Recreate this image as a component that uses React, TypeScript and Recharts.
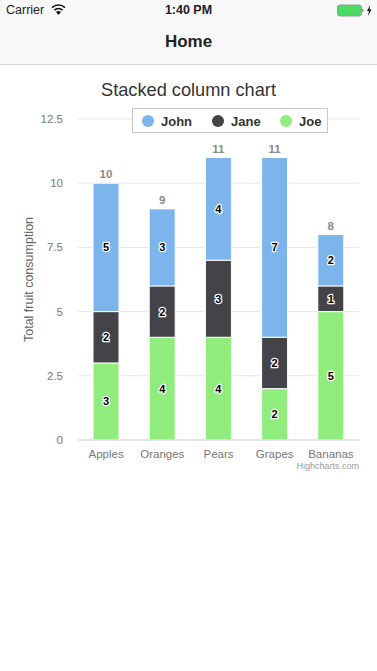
import React from "react";
import { BarChart, Bar, XAxis, YAxis, CartesianGrid, LabelList } from "recharts";

const CATEGORIES = ["Apples", "Oranges", "Pears", "Grapes", "Bananas"];
const JOHN = [5, 3, 4, 7, 2];
const JANE = [2, 2, 3, 2, 1];
const JOE = [3, 4, 4, 2, 5];
const TOTALS = [10, 9, 11, 11, 8];
const Y_TICKS = [0, 2.5, 5, 7.5, 10, 12.5];

const SERIES = [
  { name: "John", color: "#7cb5ec" },
  { name: "Jane", color: "#434348" },
  { name: "Joe", color: "#90ed7d" },
];

const data = CATEGORIES.map((name, i) => ({
  name, john: JOHN[i], jane: JANE[i], joe: JOE[i], total: TOTALS[i],
}));

const FONT = '"Liberation Sans", Arial, sans-serif';

function SegmentLabel(props: any) {
  const { x, y, width, height, value } = props;
  return (
    <text
      x={x + width / 2}
      y={y + height / 2}
      dy="0.36em"
      textAnchor="middle"
      fontSize={11}
      fontWeight={700}
      fill="#000"
      stroke="#fff"
      strokeWidth={2.5}
      strokeLinejoin="round"
      paintOrder="stroke"
      fontFamily={FONT}
    >
      {value}
    </text>
  );
}

function TotalLabel(props: any) {
  const { x, y, width, value } = props;
  return (
    <text x={x + width / 2} y={y - 5} textAnchor="middle" fontSize={11.5} fontWeight={700} fill="#8a8a8a" fontFamily={FONT}>
      {value}
    </text>
  );
}

function LegendBox() {
  return (
    <div style={{
      position: "absolute", left: 132, top: 108, boxSizing: "border-box", width: 196, height: 25,
      border: "1px solid #c8c8c8", background: "#fff",
      fontFamily: FONT, fontSize: 13, fontWeight: 700, color: "#333",
    }}>
      {SERIES.map((s, i) => (
        <div key={s.name} style={{ position: "absolute", left: [9, 79, 147][i], top: 5, display: "flex", alignItems: "center", height: 14 }}>
          <span style={{ width: 12, height: 12, borderRadius: 6, background: s.color, display: "inline-block" }} />
          <span style={{ marginLeft: 7 }}>{s.name}</span>
        </div>
      ))}
    </div>
  );
}

function Header() {
  return (
    <div style={{ position: "absolute", left: 0, top: 0, width: 377, height: 65, background: "#f8f8f8", borderBottom: "1px solid #d9d9d9", boxSizing: "border-box", fontFamily: FONT, color: "#222" }}>
      <span style={{ position: "absolute", left: 6, top: 3, fontSize: 12.5 }}>Carrier</span>
      <svg style={{ position: "absolute", left: 51, top: 4 }} width="15" height="11" viewBox="0 0 15 11">
        <path d="M7.5 11 L5 8 A4 4 0 0 1 10 8 Z" fill="#111" />
        <path d="M3.4 6.2 A6.2 6.2 0 0 1 11.6 6.2" fill="none" stroke="#111" strokeWidth="1.6" />
        <path d="M1 3.6 A9.5 9.5 0 0 1 14 3.6" fill="none" stroke="#111" strokeWidth="1.6" />
      </svg>
      <span style={{ position: "absolute", left: 0, width: 377, textAlign: "center", top: 3, fontSize: 12.5, fontWeight: 700 }}>1:40 PM</span>
      <svg style={{ position: "absolute", left: 336, top: 3 }} width="36" height="14" viewBox="0 0 36 14">
        <rect x="1.5" y="2" width="24" height="11" rx="2.5" fill="#4cd964" stroke="#999" />
        <rect x="26" y="6" width="1.5" height="3" fill="#999" />
        <path d="M34 2 L31 8 H33 L32 13 L35.5 6.5 H33.5 Z" fill="#111" />
      </svg>
      <span style={{ position: "absolute", left: 0, width: 377, textAlign: "center", top: 32, fontSize: 17, fontWeight: 700 }}>Home</span>
    </div>
  );
}

export default function App() {
  return (
    <div style={{ position: "absolute", left: 0, top: 0, width: 377, height: 671, background: "#fff", overflow: "hidden" }}>
      <Header />
      <div style={{ position: "absolute", left: 0, top: 80, width: 377, textAlign: "center", fontFamily: FONT, fontSize: 18.2, color: "#333" }}>
        Stacked column chart
      </div>
      <div style={{ position: "absolute", left: 0, top: 0 }}>
        <BarChart width={377} height={480} data={data} margin={{ top: 119, right: 18, bottom: 10, left: 0 }}>
          <CartesianGrid vertical={false} stroke="#e6e6e6" />
          <XAxis
            dataKey="name"
            height={30}
            tickLine={false}
            axisLine={{ stroke: "#ccd6eb" }}
            tick={{ fontSize: 11.5, fill: "#777", fontFamily: FONT }}
            tickMargin={4}
            interval={0}
          />
          <YAxis
            width={78}
            domain={[0, 12.5]}
            ticks={Y_TICKS}
            tickLine={false}
            axisLine={false}
            tickSize={0}
            tickMargin={15}
            tick={{ fontSize: 11.5, fill: "#777", fontFamily: FONT }}
            label={{ value: "Total fruit consumption", angle: -90, position: "insideLeft", offset: 0, style: { fontSize: 12.5, fill: "#666", fontFamily: FONT, textAnchor: "middle" }, dx: 29 }}
          />
          <Bar dataKey="joe" name="Joe" stackId="a" fill="#90ed7d" stroke="#fff" barSize={26} isAnimationActive={false}>
            <LabelList dataKey="joe" content={<SegmentLabel />} />
          </Bar>
          <Bar dataKey="jane" name="Jane" stackId="a" fill="#434348" stroke="#fff" barSize={26} isAnimationActive={false}>
            <LabelList dataKey="jane" content={<SegmentLabel />} />
          </Bar>
          <Bar dataKey="john" name="John" stackId="a" fill="#7cb5ec" stroke="#fff" barSize={26} isAnimationActive={false}>
            <LabelList dataKey="john" content={<SegmentLabel />} />
            <LabelList dataKey="total" content={<TotalLabel />} />
          </Bar>
        </BarChart>
      </div>
      <LegendBox />
      <div style={{ position: "absolute", right: 18, top: 461, fontFamily: FONT, fontSize: 9, color: "#999" }}>Highcharts.com</div>
    </div>
  );
}
